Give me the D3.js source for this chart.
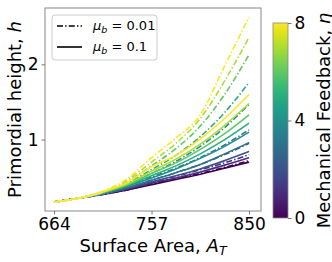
<!DOCTYPE html>
<html>
<head>
<meta charset="utf-8">
<script src="https://cdn.jsdelivr.net/npm/d3@7"></script>
<style>
  body { margin: 0; background: #fff; }
  svg { font-family: "DejaVu Sans", sans-serif; }
</style>
</head>
<body>
<svg width="332" height="262"></svg>
<script>
// surface area samples
var areas = [664, 687.25, 710.5, 733.75, 757, 780.25, 803.5, 826.75, 850];
var etas = [0, 1, 2, 3, 4, 5, 6, 7, 8];

// mu_b = 0.1 (solid), one row per eta
var hSolid = [
  [0.17, 0.22, 0.27, 0.33, 0.40, 0.47, 0.54, 0.62, 0.70],
  [0.17, 0.22, 0.28, 0.34, 0.42, 0.49, 0.57, 0.66, 0.76],
  [0.17, 0.22, 0.28, 0.35, 0.44, 0.52, 0.61, 0.72, 0.84],
  [0.17, 0.22, 0.28, 0.36, 0.46, 0.56, 0.67, 0.81, 0.96],
  [0.17, 0.22, 0.29, 0.38, 0.49, 0.61, 0.75, 0.91, 1.10],
  [0.17, 0.22, 0.29, 0.39, 0.52, 0.65, 0.81, 1.00, 1.22],
  [0.17, 0.22, 0.30, 0.40, 0.55, 0.69, 0.87, 1.08, 1.33],
  [0.17, 0.22, 0.30, 0.41, 0.58, 0.74, 0.94, 1.19, 1.48],
  [0.17, 0.22, 0.31, 0.43, 0.64, 0.79, 1.01, 1.28, 1.60]
];

// mu_b = 0.01 (dash-dot)
var hDashDot = [
  [0.17, 0.22, 0.27, 0.33, 0.41, 0.48, 0.55, 0.63, 0.72],
  [0.17, 0.22, 0.28, 0.35, 0.43, 0.51, 0.60, 0.69, 0.80],
  [0.17, 0.22, 0.28, 0.36, 0.46, 0.56, 0.67, 0.80, 0.95],
  [0.17, 0.22, 0.29, 0.38, 0.50, 0.62, 0.76, 0.93, 1.13],
  [0.17, 0.22, 0.29, 0.40, 0.55, 0.71, 0.91, 1.16, 1.47],
  [0.17, 0.22, 0.30, 0.42, 0.60, 0.79, 1.04, 1.36, 1.76],
  [0.17, 0.22, 0.30, 0.44, 0.65, 0.88, 1.18, 1.60, 2.13],
  [0.17, 0.22, 0.31, 0.46, 0.70, 0.95, 1.28, 1.78, 2.36],
  [0.17, 0.22, 0.31, 0.48, 0.76, 1.02, 1.33, 1.98, 2.63]
];

var xTicks = [664, 757, 850];
var yTicks = [1, 2];
var cTicks = [0, 4, 8];

var svg = d3.select("svg");
var mLeft = 45, mRight = 261, mTop = 8, mBottom = 211;

var x = d3.scaleLinear().domain([655.4, 861.4]).range([mLeft, mRight]);
var y = d3.scaleLinear().domain([0.05, 2.75]).range([mBottom, mTop]);
var color = d3.scaleSequential(d3.interpolateViridis).domain([0, 8]);

var line = d3.line()
    .x(function(d, i) { return x(areas[i]); })
    .y(function(d) { return y(d); })
    .curve(d3.curveMonotoneX);

var plot = svg.append("g");
plot.append("clipPath").attr("id", "clip")
  .append("rect").attr("x", mLeft).attr("y", mTop)
    .attr("width", mRight - mLeft).attr("height", mBottom - mTop);

var lines = plot.append("g").attr("clip-path", "url(#clip)");

etas.forEach(function(eta, k) {
  // dash-dot with white gaps
  lines.append("path")
      .attr("d", line(hDashDot[k]))
      .attr("fill", "none")
      .attr("stroke", "#fff")
      .attr("stroke-width", 1.6);
  lines.append("path")
      .attr("d", line(hDashDot[k]))
      .attr("fill", "none")
      .attr("stroke", color(eta))
      .attr("stroke-width", 1.6)
      .attr("stroke-dasharray", "6,2.2,1.4,2.2");
  lines.append("path")
      .attr("d", line(hSolid[k]))
      .attr("fill", "none")
      .attr("stroke", color(eta))
      .attr("stroke-width", 1.6);
});

// frame
plot.append("rect")
    .attr("x", mLeft).attr("y", mTop)
    .attr("width", mRight - mLeft).attr("height", mBottom - mTop)
    .attr("fill", "none").attr("stroke", "#888").attr("stroke-width", 1);

var xAxis = svg.append("g")
    .attr("transform", "translate(0," + mBottom + ")")
    .call(d3.axisBottom(x).tickValues(xTicks).tickFormat(d3.format("d"))
      .tickSize(3.5).tickPadding(3));
var yAxis = svg.append("g")
    .attr("transform", "translate(" + mLeft + ",0)")
    .call(d3.axisLeft(y).tickValues(yTicks).tickFormat(d3.format("d"))
      .tickSize(3.5).tickPadding(3));

[xAxis, yAxis].forEach(function(a) {
  a.attr("font-family", "DejaVu Sans").attr("font-size", 17);
  a.select(".domain").remove();
  a.selectAll(".tick line").attr("stroke", "#555").attr("stroke-width", 0.8);
  a.selectAll(".tick text").attr("fill", "#000");
});

// axis labels
var xl = svg.append("text")
    .attr("x", (mLeft + mRight) / 2).attr("y", 252)
    .attr("text-anchor", "middle").attr("font-size", 18);
xl.append("tspan").text("Surface Area, ");
xl.append("tspan").attr("font-style", "italic").text("A");
xl.append("tspan").attr("font-style", "italic").attr("font-size", 12.6)
    .attr("dy", 3).text("T");

var yl = svg.append("text")
    .attr("transform", "translate(21," + (mTop + mBottom) / 2 + ") rotate(-90)")
    .attr("text-anchor", "middle").attr("font-size", 18);
yl.append("tspan").text("Primordial height, ");
yl.append("tspan").attr("font-style", "italic").text("h");

// legend
var lg = svg.append("g");
lg.append("rect")
    .attr("x", 52).attr("y", 15).attr("width", 105).attr("height", 45)
    .attr("rx", 3).attr("fill", "#fff").attr("fill-opacity", 0.8)
    .attr("stroke", "#ccc").attr("stroke-width", 1);
var legendItems = [
  { label: "0.01", dash: "6,2.2,1.4,2.2" },
  { label: "0.1", dash: null }
];
legendItems.forEach(function(d, i) {
  var yy = 26 + i * 21;
  lg.append("line")
      .attr("x1", 57).attr("x2", 82).attr("y1", yy).attr("y2", yy)
      .attr("stroke", "#000").attr("stroke-width", 1.6)
      .attr("stroke-dasharray", d.dash);
  var t = lg.append("text").attr("x", 93).attr("y", yy + 4).attr("font-size", 13);
  t.append("tspan").attr("font-style", "italic").text("μ");
  t.append("tspan").attr("font-style", "italic").attr("font-size", 9.5)
      .attr("dy", 2.5).text("b");
  t.append("tspan").attr("dy", -2.5).text(" = " + d.label);
});

// colorbar
var cbx = 273, cbw = 15, cbTop = 23, cbBottom = 218;
var grad = svg.append("defs").append("linearGradient")
    .attr("id", "viridis").attr("x1", 0).attr("y1", 1).attr("x2", 0).attr("y2", 0);
d3.range(0, 1.0001, 0.05).forEach(function(t) {
  grad.append("stop").attr("offset", t).attr("stop-color", d3.interpolateViridis(t));
});
svg.append("rect")
    .attr("x", cbx).attr("y", cbTop).attr("width", cbw).attr("height", cbBottom - cbTop)
    .attr("fill", "url(#viridis)").attr("stroke", "#888").attr("stroke-width", 0.8);

var cy = d3.scaleLinear().domain([0, 8]).range([cbBottom, cbTop]);
var cAxis = svg.append("g")
    .attr("transform", "translate(" + (cbx + cbw) + ",0)")
    .call(d3.axisRight(cy).tickValues(cTicks).tickFormat(d3.format("d"))
      .tickSize(3.5).tickPadding(3));
cAxis.attr("font-family", "DejaVu Sans").attr("font-size", 17);
cAxis.select(".domain").remove();
cAxis.selectAll(".tick line").attr("stroke", "#555").attr("stroke-width", 0.8);
cAxis.selectAll(".tick text").attr("fill", "#000");

var cl = svg.append("text")
    .attr("transform", "translate(330," + (cbTop + cbBottom) / 2 + ") rotate(-90)")
    .attr("text-anchor", "middle").attr("font-size", 18);
cl.append("tspan").text("Mechanical Feedback, ");
cl.append("tspan").attr("font-style", "italic").text("η");
</script>
</body>
</html>
